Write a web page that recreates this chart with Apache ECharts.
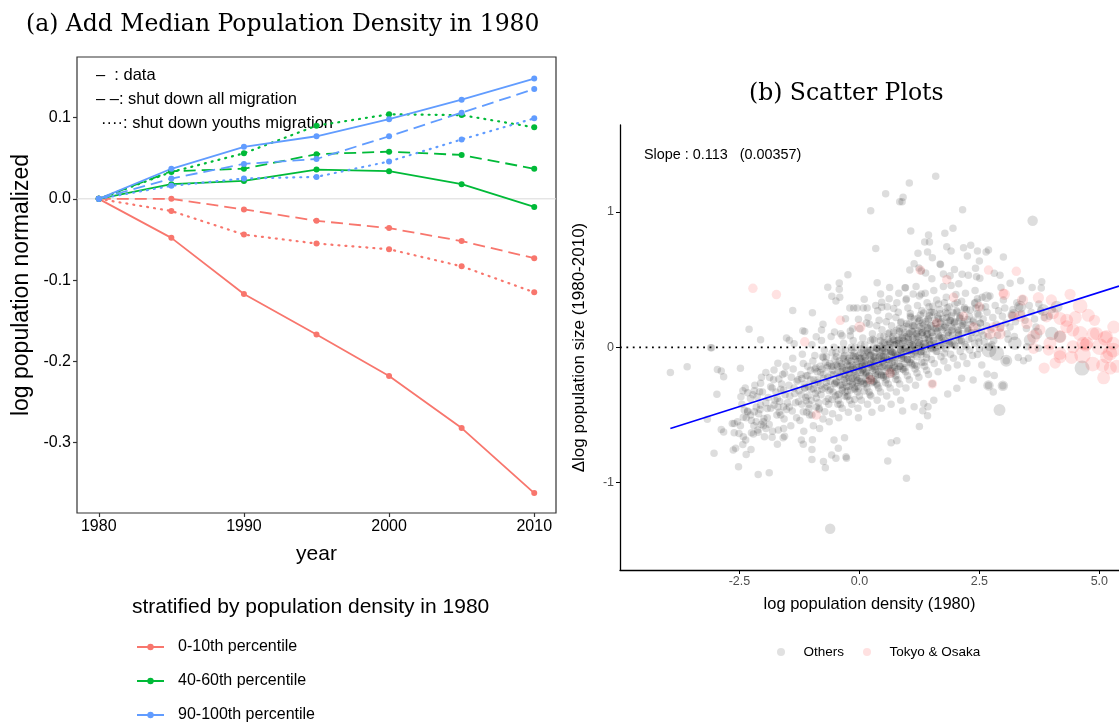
<!DOCTYPE html>
<html><head><meta charset="utf-8">
<script src="https://cdn.jsdelivr.net/npm/echarts@6/dist/echarts.min.js"></script>
<style>html,body{margin:0;padding:0;background:#fff}#c{width:1119px;height:725px}</style>
</head><body><div id="c"></div>
<script>
// ---------- Panel (a) data ----------
const years = [1980, 1985, 1990, 1995, 2000, 2005, 2010];
const yearTicks = [1980, 1990, 2000, 2010];
const normTicks = [-0.3, -0.2, -0.1, 0, 0.1];
const groupNames = ['0-10th percentile', '40-60th percentile', '90-100th percentile'];
const lowData  = [0, -0.048, -0.117, -0.167, -0.218, -0.282, -0.362];
const lowAll   = [0, 0.000, -0.013, -0.027, -0.036, -0.052, -0.073];
const lowYouth = [0, -0.015, -0.044, -0.055, -0.062, -0.083, -0.115];
const midData  = [0, 0.018, 0.022, 0.036, 0.034, 0.018, -0.010];
const midAll   = [0, 0.034, 0.037, 0.055, 0.058, 0.054, 0.037];
const midYouth = [0, 0.033, 0.056, 0.090, 0.104, 0.103, 0.088];
const highData = [0, 0.037, 0.064, 0.077, 0.098, 0.122, 0.148];
const highAll  = [0, 0.025, 0.043, 0.049, 0.077, 0.106, 0.135];
const highYouth= [0, 0.016, 0.025, 0.027, 0.046, 0.073, 0.099];

// ---------- Panel (b) data ----------
const densTicks = [-2.5, 0, 2.5, 5];
const deltaTicks = [-1, 0, 1];
const fitStart = [-3.94, -0.60];
const fitEnd = [5.41, 0.453];
const slopeText = 'Slope : 0.113   (0.00357)';
// Others: [log density 1980, delta log pop]
const othersPts = [
[0.547,1.135],[0.84,1.076],[0.235,1.01],[0.34,0.73],[-0.24,0.537],[-0.42,0.475],[-0.42,0.43],[-0.66,0.445],[-0.575,0.377],[-0.49,0.342],[-0.41,0.37],[0.37,0.477],[0.63,0.443],[-1.39,0.273],[-0.98,0.256],[-2.30,0.133],[-2.06,0.056],[-3.08,-0.003],[-1.52,0.069],[-1.18,0.123],[-1.14,0.118],[-0.90,0.078],[-0.76,0.17],[-0.79,0.128],[-0.52,0.113],[-0.29,0.211],[-0.14,0.138],[-0.02,0.207],[0.145,0.18],[-0.2,0.29],[-0.12,0.29],[-0.05,0.29],[0.08,0.29],[0.16,0.29],[0.10,0.355],[0.34,0.31],[0.465,0.333],[0.465,0.296],[0.44,0.394],[0.715,0.288],[-0.36,0.086],[-0.19,0.086],[-1.36,0.027],[-1.46,0.052],
[1.59,1.264],[1.04,1.214],[0.91,1.11],[0.89,1.076],[2.15,1.017],[1.07,0.86],[1.44,0.83],[1.78,0.843],[1.95,0.88],[1.36,0.778],[1.46,0.778],[1.82,0.744],[1.91,0.712],[2.17,0.736],[2.32,0.754],[2.46,0.712],[2.69,0.72],[2.64,0.704],[1.22,0.695],[1.42,0.704],[1.52,0.662],[2.25,0.675],[2.50,0.638],[3.0,0.667],[1.14,0.618],[1.24,0.586],[1.05,0.571],[1.29,0.564],[1.68,0.616],[1.69,0.612],[2.42,0.584],[1.38,0.549],[1.51,0.507],[1.75,0.542],[1.89,0.529],[1.98,0.576],[1.91,0.458],[2.14,0.54],[2.27,0.532],[2.44,0.522],[2.51,0.51],[2.81,0.547],[2.93,0.532],[3.36,0.492],[2.95,0.443],[3.14,0.473],[3.60,0.443],[3.80,0.485],[3.79,0.438],[0.95,0.44],[1.12,0.394],[1.29,0.394],[0.97,0.35],
[2.99,-0.284],[2.79,-0.33],[2.69,-0.281],[2.37,-0.242],[2.66,-0.197],[2.81,-0.207],[2.55,-0.131],[3.06,-0.099],[2.46,-0.052],[3.31,-0.074],[3.42,-0.099],[3.52,-0.081],[3.49,0.004],[3.73,-0.007],[1.14,-0.439],[1.32,-0.469],[1.42,-0.506],[1.25,-0.584],[1.43,-0.439],[1.34,-0.414],[1.55,-0.39],[1.84,-0.345],[2.03,-0.303],[2.13,-0.229],[1.52,-0.269],[0.90,-0.471],
[-3.94,-0.185],[-3.59,-0.143],[-2.96,-0.163],[-2.88,-0.175],[-2.83,-0.217],[-2.48,-0.155],[-2.97,-0.347],[-3.10,-0.003],[-3.03,-0.783],[-2.88,-0.606],[-2.83,-0.626],[-2.63,-0.759],[-2.58,-0.746],[-2.52,-0.882],[-2.43,-0.717],[-2.37,-0.685],[-2.26,-0.754],[-2.36,-0.791],[-2.11,-0.939],[-1.88,-0.927],[-2.61,-0.631],[-2.51,-0.636],[-2.61,-0.562],[-2.54,-0.55],[-2.42,-0.517],[-2.33,-0.476],[-2.40,-0.463],[-2.25,-0.54],[-2.15,-0.55],[-2.05,-0.57],[-2.0,-0.58],[-1.95,-0.6],[-2.2,-0.58],[-2.21,-0.641],[-2.11,-0.628],[-1.82,-0.665],[-1.59,-0.668],[-1.71,-0.715],[-1.69,-0.611],[-1.56,-0.656],[-1.21,-0.685],[-1.17,-0.715],[-0.98,-0.683],[-0.99,-0.754],[-0.99,-0.828],[-0.75,-0.843],[-0.71,-0.89],[-0.58,-0.796],[-0.53,-0.685],[-0.49,-0.82],[-0.44,-0.746],[-0.31,-0.668],[-0.28,-0.809],[-0.27,-0.82],[0.59,-0.84],[0.66,-0.705],[0.78,-0.69],[0.98,-0.968],[-3.17,-0.532],[-2.65,-0.562],[-1.95,-0.185],[-1.70,-0.118],[-1.78,-0.168],[-1.56,-0.192],[-1.87,-0.222],[-1.68,-0.234],[-2.43,-0.321],[-2.33,-0.336],[-2.19,-0.321],[-2.08,-0.328],[-2.47,-0.365],[-2.27,-0.377],[-2.13,-0.365],[-2.06,-0.266],[-1.85,-0.291],[-1.58,-0.316],[-1.71,-0.377],[-1.78,-0.426],[-1.58,-0.439],[-1.64,-0.5],[-1.92,-0.451],[-2.06,-0.426],[-2.19,-0.476],[-1.99,-0.525],
[-2.45,-0.42],[-2.38,-0.3],[-2.33,-0.47],[-2.48,-0.58],[-2.36,-0.52],[-2.42,-0.66],
[-2.22,-0.35],[-2.15,-0.44],[-2.27,-0.5],[-2.12,-0.61],[-2.18,-0.28],[-2.25,-0.63],[-2.1,-0.49],
[-2.02,-0.33],[-1.95,-0.41],[-2.07,-0.46],[-1.92,-0.52],[-2.04,-0.22],[-1.98,-0.66],[-1.9,-0.37],[-2.0,-0.55],
[-1.82,-0.3],[-1.76,-0.39],[-1.85,-0.45],[-1.72,-0.5],[-1.79,-0.24],[-1.88,-0.57],[-1.74,-0.33],[-1.81,-0.62],[-1.7,-0.44],
[-1.62,-0.27],[-1.55,-0.35],[-1.66,-0.4],[-1.52,-0.46],[-1.6,-0.2],[-1.57,-0.53],[-1.64,-0.31],[-1.5,-0.41],[-1.58,-0.6],[-1.53,-0.14],[-1.67,-0.48],
[-1.42,-0.22],[-1.36,-0.3],[-1.45,-0.36],[-1.33,-0.41],[-1.4,-0.47],[-1.38,-0.16],[-1.47,-0.28],[-1.31,-0.52],[-1.43,-0.58],[-1.35,-0.34],[-1.39,-0.08],[-1.3,-0.25],[-1.46,-0.44],
[-1.22,-0.2],[-1.15,-0.27],[-1.26,-0.32],[-1.12,-0.37],[-1.2,-0.42],[-1.17,-0.12],[-1.28,-0.24],[-1.1,-0.48],[-1.24,-0.54],[-1.14,-0.3],[-1.19,-0.05],[-1.11,-0.21],[-1.27,-0.4],[-1.16,-0.62],[-1.21,-0.35],
[-1.02,-0.17],[-0.95,-0.24],[-1.06,-0.29],[-0.92,-0.34],[-1.0,-0.39],[-0.97,-0.1],[-1.08,-0.21],[-0.9,-0.44],[-1.04,-0.5],[-0.94,-0.27],[-0.99,0.02],[-0.91,-0.15],[-1.07,-0.36],[-0.96,-0.58],[-1.01,-0.31],[-0.93,-0.06],[-1.05,-0.45],
[-0.82,-0.14],[-0.75,-0.2],[-0.86,-0.26],[-0.72,-0.3],[-0.8,-0.35],[-0.77,-0.07],[-0.88,-0.18],[-0.7,-0.4],[-0.84,-0.46],[-0.74,-0.23],[-0.79,0.05],[-0.71,-0.11],[-0.87,-0.32],[-0.76,-0.53],[-0.81,-0.28],[-0.73,-0.02],[-0.85,-0.41],[-0.78,-0.16],[-0.83,-0.6],
[-0.62,-0.12],[-0.55,-0.17],[-0.66,-0.22],[-0.52,-0.27],[-0.6,-0.31],[-0.57,-0.04],[-0.68,-0.15],[-0.5,-0.36],[-0.64,-0.42],[-0.54,-0.2],[-0.59,0.08],[-0.51,-0.09],[-0.67,-0.29],[-0.56,-0.49],[-0.61,-0.25],[-0.53,0.0],[-0.65,-0.38],[-0.58,-0.14],[-0.63,-0.55],[-0.55,-0.33],[-0.69,-0.07],
[-0.42,-0.1],[-0.35,-0.15],[-0.46,-0.19],[-0.32,-0.24],[-0.4,-0.28],[-0.37,-0.02],[-0.48,-0.13],[-0.3,-0.33],[-0.44,-0.39],[-0.34,-0.17],[-0.39,0.1],[-0.31,-0.06],[-0.47,-0.26],[-0.36,-0.45],[-0.41,-0.22],[-0.33,0.03],[-0.45,-0.35],[-0.38,-0.12],[-0.43,-0.52],[-0.35,-0.3],[-0.49,-0.04],[-0.32,-0.2],[-0.4,-0.42],
[-0.22,-0.08],[-0.15,-0.13],[-0.26,-0.17],[-0.12,-0.21],[-0.2,-0.25],[-0.17,0.0],[-0.28,-0.11],[-0.1,-0.3],[-0.24,-0.36],[-0.14,-0.15],[-0.19,0.12],[-0.11,-0.04],[-0.27,-0.23],[-0.16,-0.42],[-0.21,-0.19],[-0.13,0.05],[-0.25,-0.32],[-0.18,-0.1],[-0.23,-0.48],[-0.15,-0.27],[-0.29,-0.02],[-0.12,-0.18],[-0.2,-0.39],[-0.17,-0.06],[-0.26,-0.29],
[-0.02,-0.06],[0.05,-0.11],[-0.06,-0.15],[0.08,-0.19],[0.0,-0.23],[0.03,0.02],[-0.08,-0.09],[0.1,-0.27],[-0.04,-0.33],[0.06,-0.13],[0.01,0.14],[0.09,-0.02],[-0.07,-0.21],[0.04,-0.39],[-0.01,-0.17],[0.07,0.07],[-0.05,-0.29],[0.02,-0.08],[-0.03,-0.45],[0.05,-0.25],[-0.09,0.0],[0.08,-0.16],[0.0,-0.36],[0.03,-0.04],[-0.06,-0.26],[0.1,-0.12],[-0.02,-0.52],
[0.18,-0.04],[0.25,-0.09],[0.14,-0.13],[0.28,-0.17],[0.2,-0.21],[0.23,0.05],[0.12,-0.07],[0.3,-0.25],[0.16,-0.3],[0.26,-0.11],[0.21,0.17],[0.29,0.0],[0.13,-0.19],[0.24,-0.36],[0.19,-0.15],[0.27,0.1],[0.15,-0.27],[0.22,-0.06],[0.17,-0.42],[0.25,-0.23],[0.11,0.02],[0.28,-0.14],[0.2,-0.33],[0.23,-0.02],[0.14,-0.24],[0.3,-0.1],[0.18,0.22],[0.26,-0.48],
[0.38,-0.01],[0.45,-0.06],[0.34,-0.1],[0.48,-0.14],[0.4,-0.18],[0.43,0.08],[0.32,-0.04],[0.5,-0.22],[0.36,-0.27],[0.46,-0.08],[0.41,0.2],[0.49,0.03],[0.33,-0.16],[0.44,-0.33],[0.39,-0.12],[0.47,0.13],[0.35,-0.24],[0.42,-0.03],[0.37,-0.39],[0.45,-0.2],[0.31,0.05],[0.48,-0.11],[0.4,-0.3],[0.43,0.01],[0.34,-0.21],[0.5,-0.07],[0.38,0.27],[0.46,-0.45],[0.36,0.16],
[0.58,0.02],[0.65,-0.03],[0.54,-0.07],[0.68,-0.11],[0.6,-0.15],[0.63,0.11],[0.52,-0.01],[0.7,-0.19],[0.56,-0.24],[0.66,-0.05],[0.61,0.23],[0.69,0.06],[0.53,-0.13],[0.64,-0.3],[0.59,-0.09],[0.67,0.16],[0.55,-0.21],[0.62,0.0],[0.57,-0.36],[0.65,-0.17],[0.51,0.08],[0.68,-0.08],[0.6,-0.27],[0.63,0.04],[0.54,-0.18],[0.7,-0.04],[0.58,0.3],[0.66,-0.42],[0.56,0.19],[0.62,0.36],
[0.78,0.05],[0.85,0.0],[0.74,-0.04],[0.88,-0.08],[0.8,-0.12],[0.83,0.14],[0.72,0.02],[0.9,-0.16],[0.76,-0.21],[0.86,-0.02],[0.81,0.26],[0.89,0.09],[0.73,-0.1],[0.84,-0.27],[0.79,-0.06],[0.87,0.19],[0.75,-0.18],[0.82,0.03],[0.77,-0.33],[0.85,-0.14],[0.71,0.11],[0.88,-0.05],[0.8,-0.24],[0.83,0.07],[0.74,-0.15],[0.9,-0.01],[0.78,0.33],[0.86,-0.39],[0.76,0.22],[0.82,0.4],
[0.98,0.08],[1.05,0.03],[0.94,-0.01],[1.08,-0.05],[1.0,-0.09],[1.03,0.17],[0.92,0.05],[1.1,-0.13],[0.96,-0.18],[1.06,0.01],[1.01,0.29],[1.09,0.12],[0.93,-0.07],[1.04,-0.24],[0.99,-0.03],[1.07,0.22],[0.95,-0.15],[1.02,0.06],[0.97,-0.3],[1.05,-0.11],[0.91,0.14],[1.08,-0.02],[1.0,-0.21],[1.03,0.1],[0.94,-0.12],[1.1,0.02],[0.98,0.36],[1.06,0.25],[0.96,0.44],
[1.18,0.1],[1.25,0.05],[1.14,0.01],[1.28,-0.03],[1.2,-0.07],[1.23,0.19],[1.12,0.07],[1.3,-0.11],[1.16,-0.16],[1.26,0.03],[1.21,0.31],[1.29,0.14],[1.13,-0.05],[1.24,-0.22],[1.19,-0.01],[1.27,0.24],[1.15,-0.13],[1.22,0.08],[1.17,-0.28],[1.25,0.38],[1.11,0.16],[1.28,0.0],[1.2,-0.19],[1.23,0.12],[1.14,0.21],[1.3,0.27],[1.18,0.45],
[1.38,0.12],[1.45,0.07],[1.34,0.03],[1.48,-0.01],[1.4,-0.05],[1.43,0.21],[1.32,0.09],[1.5,-0.09],[1.36,-0.14],[1.46,0.05],[1.41,0.33],[1.49,0.16],[1.33,-0.03],[1.44,-0.2],[1.39,0.01],[1.47,0.26],[1.35,-0.11],[1.42,0.1],[1.37,0.4],[1.45,0.3],[1.31,0.18],[1.48,0.02],[1.4,-0.17],[1.43,0.14],
[1.58,0.14],[1.65,0.09],[1.54,0.05],[1.68,0.01],[1.6,-0.03],[1.63,0.23],[1.52,0.11],[1.7,-0.07],[1.56,-0.12],[1.66,0.07],[1.61,0.35],[1.69,0.18],[1.53,-0.01],[1.64,-0.18],[1.59,0.03],[1.67,0.28],[1.55,0.42],[1.62,0.12],[1.57,0.2],[1.65,0.32],[1.51,0.26],
[1.78,0.16],[1.85,0.11],[1.74,0.07],[1.88,0.03],[1.8,-0.01],[1.83,0.25],[1.72,0.13],[1.9,-0.05],[1.76,-0.1],[1.86,0.09],[1.81,0.37],[1.89,0.2],[1.73,0.01],[1.84,-0.15],[1.79,0.05],[1.87,0.3],[1.75,0.45],[1.82,0.22],[1.77,0.33],
[1.98,0.18],[2.05,0.13],[1.94,0.09],[2.08,0.05],[2.0,0.01],[2.03,0.27],[1.92,0.15],[2.1,-0.03],[1.96,-0.08],[2.06,0.11],[2.01,0.39],[2.09,0.22],[1.93,0.03],[2.04,-0.13],[1.99,0.32],[2.07,0.47],
[2.18,0.19],[2.25,0.14],[2.14,0.1],[2.28,0.06],[2.2,0.02],[2.23,0.28],[2.12,0.16],[2.3,-0.02],[2.16,-0.07],[2.26,0.12],[2.21,0.4],[2.29,0.23],[2.13,0.34],[2.24,-0.12],
[2.38,0.2],[2.45,0.15],[2.34,0.11],[2.48,0.07],[2.4,0.03],[2.43,0.29],[2.32,0.17],[2.5,-0.01],[2.36,-0.06],[2.46,0.36],[2.41,0.42],[2.49,0.24],
[2.58,0.21],[2.65,0.16],[2.54,0.12],[2.68,0.08],[2.6,0.04],[2.63,0.3],[2.52,0.18],[2.7,0.0],[2.56,0.37],[2.66,0.26],
[2.78,0.22],[2.85,0.17],[2.74,0.13],[2.88,0.09],[2.8,0.05],[2.83,0.31],[2.72,0.38],[2.9,0.27],[2.76,0.02],
[2.98,0.23],[3.05,0.18],[2.94,0.14],[3.08,0.1],[3.0,0.35],[3.03,0.29],[3.1,0.06],
[3.18,0.24],[3.25,0.19],[3.14,0.15],[3.28,0.33],[3.2,0.28],[3.23,0.08],
[3.38,0.25],[3.45,0.2],[3.34,0.3],[3.48,0.14],[3.4,0.36],
[3.58,0.26],[3.65,0.21],[3.54,0.31],[3.68,0.15],
[3.78,0.27],[3.85,0.22],[3.74,0.32],
[4.02,0.28],[3.96,0.23]
];
// Others in the dense core of the cloud
const othersCore = [
[-1.20,-0.23],[-1.17,-0.475],[-1.14,-0.30],[-1.11,-0.395],[-1.08,-0.14],[-1.05,-0.42],[-1.02,-0.24],[-0.99,-0.50],[-0.96,-0.305],[-0.93,-0.16],[-0.90,-0.375],[-0.87,-0.24],[-0.84,-0.45],[-0.81,-0.185],[-0.78,-0.31],[-0.75,-0.075],[-0.72,-0.475],[-0.69,-0.26],[-0.66,-0.135],[-0.63,-0.32],[-0.60,-0.2],[-0.57,-0.385],[-0.54,-0.14],[-0.51,-0.265],[-0.48,-0.07],[-0.45,-0.42],[-0.42,-0.215],[-0.39,-0.14],[-0.36,-0.315],[-0.33,-0.07],[-0.30,-0.26],[-0.28,-0.165],[-0.26,-0.365],[-0.24,-0.1],[-0.22,-0.22],[-0.20,-0.135],[-0.18,-0.315],[-0.16,-0.02],[-0.14,-0.26],[-0.12,-0.165],[-0.10,-0.385],[-0.08,-0.07],[-0.06,-0.22],[-0.04,-0.105],[-0.02,-0.305],[0.00,-0.14],[0.02,-0.256],[0.04,-0.013],[0.06,-0.17],[0.08,-0.066],[0.10,-0.322],[0.12,-0.098],[0.14,-0.205],[0.16,-0.021],[0.18,-0.248],[0.20,-0.124],[0.22,-0.35],[0.24,-0.057],[0.26,-0.153],[0.28,0.06],[0.30,-0.256],[0.32,-0.072],[0.34,-0.189],[0.36,-0.005],[0.38,-0.282],[0.40,-0.078],[0.42,-0.144],[0.44,0.049],[0.46,-0.207],[0.48,-0.024],[0.50,-0.1],[0.52,0.034],[0.54,-0.262],[0.56,-0.038],[0.58,-0.154],[0.60,0.1],[0.62,-0.096],[0.64,0.028],[0.66,-0.198],[0.68,-0.034],[0.70,0.08],[0.72,-0.136],[0.74,0.018],[0.76,-0.238],[0.78,0.126],[0.80,-0.05],[0.82,0.054],[0.84,-0.142],[0.86,0.182],[0.88,-0.064],[0.90,0.03],[0.92,-0.166],[0.94,0.108],[0.96,0.002],[0.98,0.156],[1.00,-0.09],[1.02,0.073],[1.04,-0.024],[1.06,0.23],[1.08,-0.117],[1.10,0.116],[1.12,0.019],[1.14,0.162],[1.16,-0.034],[1.18,0.069],[1.20,-0.138],[1.22,0.215],[1.24,0.018],[1.26,0.152],[1.28,-0.055],[1.30,0.108],[1.32,0.001],[1.34,0.254],[1.36,0.068],[1.38,0.191],[1.40,-0.076],[1.42,0.147],[1.44,0.06],[1.46,0.234],[1.48,-0.003],[1.50,0.11],[1.53,0.303],[1.56,0.026],[1.59,0.179],[1.62,-0.028],[1.65,0.145],[1.68,0.248],[1.71,0.071],[1.74,0.214],[1.77,-0.043],[1.80,0.15],[1.83,0.293],[1.86,0.046],[1.89,0.199],[1.92,0.122],[1.95,0.255],[1.98,0.018],[2.01,0.19],[2.04,0.331],[2.07,0.092],[2.10,0.233],[2.13,0.043],[2.16,0.164],[2.19,0.294],[2.22,0.005],[2.25,0.205],[2.28,0.126],[2.31,0.276],[2.34,0.067],[2.37,0.187],[2.40,0.328],[2.43,0.108],[2.46,0.249],[2.49,0.039],[2.52,0.179],[2.55,0.29],[2.58,0.09],
[-0.485,-0.252],[-0.455,-0.139],[-0.425,-0.345],[-0.395,-0.181],[-0.365,-0.277],[-0.335,-0.083],[-0.305,-0.36],[-0.275,-0.206],[-0.245,-0.132],[-0.215,-0.288],[-0.185,-0.164],[-0.155,-0.23],[-0.125,-0.066],[-0.095,-0.312],[-0.065,-0.128],[-0.035,-0.245],[-0.005,-0.081],[0.025,-0.186],[0.055,-0.14],[0.085,-0.265],[0.115,-0.079],[0.145,-0.184],[0.175,-0.028],[0.205,-0.213],[0.235,-0.118],[0.265,-0.262],[0.295,-0.067],[0.325,-0.141],[0.355,-0.006],[0.385,-0.2],[0.415,-0.065],[0.445,-0.15],[0.475,-0.004],[0.505,-0.209],[0.535,-0.033],[0.565,-0.087],[0.595,0.059],[0.625,-0.135],[0.655,-0.029],[0.685,-0.153],[0.715,0.053],[0.745,-0.071],[0.775,0.025],[0.805,-0.159],[0.835,0.117],[0.865,-0.017],[0.895,0.069],[0.925,-0.085],[0.955,0.041],[0.985,0.177],[1.015,-0.028],[1.045,0.107],[1.075,-0.088],[1.105,0.057],[1.135,0.152],[1.165,-0.024],[1.195,0.101],[1.225,0.036],[1.255,0.201],[1.285,-0.034],[1.315,0.11],[1.345,0.165],[1.375,0.03],[1.405,0.095],[1.435,0.21],[1.465,0.015],[1.495,0.16],[1.525,0.082],[1.555,0.255],[1.585,-0.001],[1.615,0.142],[1.645,0.214],[1.675,0.078],[1.705,0.19],[1.735,0.033],[1.765,0.147],[1.795,0.26],[1.825,0.103],[1.855,0.185],[1.885,0.019],[1.915,0.231],[1.945,0.135],[1.975,0.187],[2.005,0.07],[2.035,0.261],[2.065,0.122],[2.095,0.213],[2.125,0.053],[2.155,0.174],[2.185,0.284]
];
// Others with larger population: [x, y, size class]
const othersBig = [
[4.64,-0.153,3],[2.92,-0.463,2],[-0.61,-1.34,1.5],[3.61,0.936,1.5],[2.86,-0.044,3],[3.06,-0.099,2],[2.69,-0.281,1.5],[2.99,-0.284,1.5],
[3.83,0.276,2],[4.11,0.3,2],[4.01,0.103,2.5],[4.18,0.078,2],[3.69,0.103,2],[3.24,0.03,2.5],[3.55,0.054,2],[2.44,0.325,1.5],[2.65,0.374,1.5],[3.21,0.239,2],[2.7,-0.02,3],[3.35,0.3,2]
];
// Tokyo & Osaka: [x, y, size class]
const tokyoPts = [
[-2.22,0.436,1],[-1.73,0.39,1],[-0.40,0.2,1],[0.01,0.15,1.5],[-1.14,0.041,1],[-0.9,-0.5,1],[0.23,-0.24,1],[0.64,-0.19,1],[1.52,-0.27,1],[1.27,0.57,1],[1.82,0.5,1],[1.96,0.37,1],[1.61,0.18,1],[2.17,0.23,1],[2.38,0.15,1],
[2.69,0.571,1],[3.27,0.562,1],[3.02,0.392,1.5],[3.0,0.4,1],[4.39,0.392,1.5],[4.60,0.305,2.5],[4.77,0.237,2],[3.73,0.367,1.5],[3.90,0.226,1.5],[4.18,0.214,2],[4.32,0.152,2],[4.45,0.128,2],[3.49,0.177,1.5],[2.93,0.152,1],[2.72,0.103,1.5],
[4.60,0.103,2.5],[4.94,0.103,2],[5.12,0.067,2.5],[4.74,0.03,2],[5.29,0.03,2],[5.01,0.004,3],[3.85,-0.153,1.5],[4.08,-0.116,1.5],[4.42,-0.074,2],[4.86,-0.123,2.5],[5.07,-0.133,2],[5.23,-0.153,2],[5.09,-0.225,2],[4.65,-0.057,3],[5.22,-0.044,2.5],[4.45,0.004,2],[4.72,0.017,2],[4.18,-0.044,2],[3.94,-0.02,1.5],[3.63,-0.007,1.5],
[4.04,0.25,1.5],[4.32,0.2,2],[4.87,0.1,2],[5.15,0.08,2],[5.29,-0.02,2.5],[4.66,0.03,2],[3.97,0.03,2],[3.63,0.08,2],[3.76,0.13,1.5],[4.18,0.08,2],[3.35,0.23,1.5],[3.2,0.23,1],[2.93,0.1,1.5],[2.79,0.15,1],[5.15,-0.07,2],[5.36,-0.14,2],[4.18,-0.07,2],[4.5,0.22,2],[4.9,0.2,1.5],[5.3,0.15,2],[4.0,0.35,1.5],[3.4,0.35,1.5],[2.5,0.3,1]
];

// ---------- styling ----------
const SANS = 'Liberation Sans';
const SERIF = 'DejaVu Serif';
const RED = '#F8766D', GREEN = '#00BA38', BLUE = '#619CFF';
const GRAY_PT = 'rgba(0,0,0,0.17)';

function lineSeries(name, vals, color, kind) {
  const dash = kind === 'solid' ? 'solid' : (kind === 'dashed' ? [12, 6] : [1, 6]);
  return {
    type: 'line', name: name, xAxisIndex: 0, yAxisIndex: 0,
    data: years.map((y, i) => [y, vals[i]]),
    symbol: 'circle', symbolSize: 6, showSymbol: true,
    lineStyle: { color: color, width: kind === 'dotted' ? 2.2 : 1.8, type: dash, cap: kind === 'dotted' ? 'round' : 'butt' },
    itemStyle: { color: color }, z: 3, silent: true
  };
}

const chart = echarts.init(document.getElementById('c'), null, { renderer: 'canvas' });
const option = {
  backgroundColor: '#fff',
  animation: false,
  title: [
    { text: '(a) Add Median Population Density in 1980', left: 21, top: 8,
      textStyle: { fontFamily: SERIF, fontSize: 23.5, fontWeight: 'normal', color: '#000' } },
    { text: '(b) Scatter Plots', left: 744, top: 77,
      textStyle: { fontFamily: SERIF, fontSize: 23.5, fontWeight: 'normal', color: '#000' } }
  ],
  grid: [
    { left: 77, top: 57, width: 479, height: 456, show: true, borderColor: '#333', borderWidth: 1.2, backgroundColor: 'transparent' },
    { left: 620, top: 125, width: 499, height: 445, show: false }
  ],
  xAxis: [
    { gridIndex: 0, type: 'value', min: 1978.5, max: 2011.5,
      name: 'year', nameLocation: 'middle', nameGap: 31,
      nameTextStyle: { fontFamily: SANS, fontSize: 21, color: '#000' },
      axisLine: { show: false, onZero: false }, splitLine: { show: false },
      axisTick: { show: true, length: 4, customValues: yearTicks, lineStyle: { color: '#333', width: 1.2 } },
      axisLabel: { customValues: yearTicks, fontFamily: SANS, fontSize: 16, color: '#000', margin: 6, formatter: v => String(v) } },
    { gridIndex: 1, type: 'value', min: -4.99, max: 5.41,
      name: 'log population density (1980)', nameLocation: 'middle', nameGap: 26,
      nameTextStyle: { fontFamily: SANS, fontSize: 16.5, color: '#000' },
      axisLine: { show: true, onZero: false, lineStyle: { color: '#000', width: 1.3 } }, splitLine: { show: false },
      axisTick: { show: true, length: 4, customValues: densTicks, lineStyle: { color: '#000', width: 1 } },
      axisLabel: { customValues: densTicks, fontFamily: SANS, fontSize: 12.5, color: '#4d4d4d', margin: 5, formatter: v => v.toFixed(1) } }
  ],
  yAxis: [
    { gridIndex: 0, type: 'value', min: -0.3865, max: 0.1745,
      name: 'log population normalized', nameLocation: 'middle', nameGap: 44,
      nameTextStyle: { fontFamily: SANS, fontSize: 23, color: '#000' },
      axisLine: { show: false, onZero: false }, splitLine: { show: false },
      axisTick: { show: true, length: 4, customValues: normTicks, lineStyle: { color: '#333', width: 1.2 } },
      axisLabel: { customValues: normTicks, fontFamily: SANS, fontSize: 16, color: '#000', margin: 6, formatter: v => v.toFixed(1) } },
    { gridIndex: 1, type: 'value', min: -1.645, max: 1.643,
      name: '\u0394log population size (1980-2010)', nameLocation: 'middle', nameGap: 32,
      nameTextStyle: { fontFamily: SANS, fontSize: 17, color: '#000' },
      axisLine: { show: true, onZero: false, lineStyle: { color: '#000', width: 1.3 } }, splitLine: { show: false },
      axisTick: { show: true, length: 4, customValues: deltaTicks, lineStyle: { color: '#000', width: 1 } },
      axisLabel: { customValues: deltaTicks, fontFamily: SANS, fontSize: 12.5, color: '#4d4d4d', margin: 6, formatter: v => String(v) } }
  ],
  legend: [
    { data: groupNames, orient: 'vertical', left: 136, top: 638, padding: 0, itemWidth: 27, itemHeight: 8, itemGap: 16,
      selectedMode: false,
      textStyle: { fontFamily: SANS, fontSize: 16, color: '#000', lineHeight: 18, padding: [0, 0, 0, 9] } },
    { data: [ { name: 'Others', itemStyle: { color: '#d9d9d9' } }, { name: 'Tokyo & Osaka', itemStyle: { color: '#ffd9d9' } } ],
      orient: 'horizontal', left: 777, top: 645, padding: 0, icon: 'circle', itemWidth: 8, itemHeight: 8, itemGap: 19,
      selectedMode: false,
      textStyle: { fontFamily: SANS, fontSize: 13.5, color: '#000', padding: [0, 0, 0, 13.5] } }
  ],
  graphic: [
    { type: 'text', x: 96, y: 75, style: { text: '\u2013  : data', font: '16.5px "Liberation Sans"', fill: '#000', verticalAlign: 'middle' } },
    { type: 'text', x: 96, y: 99, style: { text: '\u2013 \u2013: shut down all migration', font: '16.5px "Liberation Sans"', fill: '#000', verticalAlign: 'middle' } },
    { type: 'text', x: 101, y: 123, style: { text: '\u00b7\u00b7\u00b7\u00b7: shut down youths migration', font: '16.5px "Liberation Sans"', fill: '#000', verticalAlign: 'middle' } },
    { type: 'text', x: 132, y: 607, style: { text: 'stratified by population density in 1980', font: '21px "Liberation Sans"', fill: '#000', verticalAlign: 'middle' } },
    { type: 'text', x: 644, y: 155, style: { text: slopeText, font: '14.4px "Liberation Sans"', fill: '#000', verticalAlign: 'middle' } }
  ],
  series: [
    { type: 'line', name: 'zero-a', xAxisIndex: 0, yAxisIndex: 0, data: [[1978.5, 0], [2011.5, 0]],
      symbol: 'none', lineStyle: { color: '#d9d9d9', width: 1 }, z: 1, silent: true },
    lineSeries(groupNames[0], lowData, RED, 'solid'),
    lineSeries('0-10th (all)', lowAll, RED, 'dashed'),
    lineSeries('0-10th (youths)', lowYouth, RED, 'dotted'),
    lineSeries(groupNames[1], midData, GREEN, 'solid'),
    lineSeries('40-60th (all)', midAll, GREEN, 'dashed'),
    lineSeries('40-60th (youths)', midYouth, GREEN, 'dotted'),
    lineSeries(groupNames[2], highData, BLUE, 'solid'),
    lineSeries('90-100th (all)', highAll, BLUE, 'dashed'),
    lineSeries('90-100th (youths)', highYouth, BLUE, 'dotted'),
    // panel b
    { type: 'scatter', name: 'Others', xAxisIndex: 1, yAxisIndex: 1, data: othersPts, symbolSize: 7.5,
      itemStyle: { color: GRAY_PT }, silent: true, z: 2 },
    { type: 'scatter', name: 'Others', xAxisIndex: 1, yAxisIndex: 1, data: othersCore, symbolSize: 7.5,
      itemStyle: { color: GRAY_PT }, silent: true, z: 2 },
    { type: 'scatter', name: 'Others', xAxisIndex: 1, yAxisIndex: 1, data: othersBig,
      symbolSize: v => 6 + 3 * v[2], itemStyle: { color: GRAY_PT }, silent: true, z: 2 },
    { type: 'scatter', name: 'Tokyo & Osaka', xAxisIndex: 1, yAxisIndex: 1, data: tokyoPts,
      symbolSize: v => 6 + 3.5 * v[2], itemStyle: { color: 'rgba(255,0,0,0.14)' }, silent: true, z: 2 },
    { type: 'line', name: 'zero-b', xAxisIndex: 1, yAxisIndex: 1, data: [[-4.99, 0], [5.41, 0]],
      symbol: 'none', lineStyle: { color: '#000', width: 1.8, type: [1.8, 4.6] }, z: 3, silent: true },
    { type: 'line', name: 'fit', xAxisIndex: 1, yAxisIndex: 1, data: [fitStart, fitEnd],
      symbol: 'none', lineStyle: { color: '#0000ff', width: 1.6 }, z: 4, silent: true }
  ]
};
chart.setOption(option);
</script></body></html>
